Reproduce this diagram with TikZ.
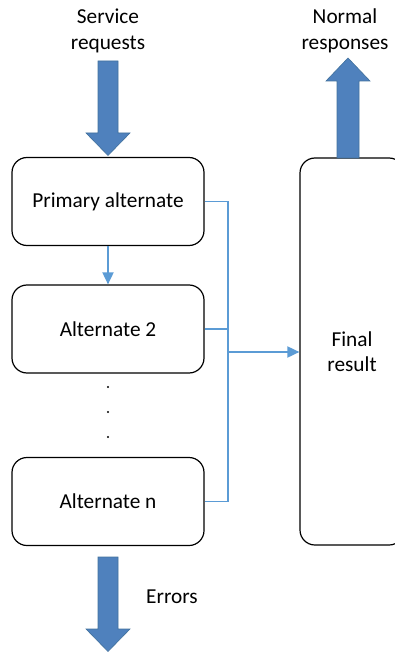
\documentclass[tikz,border=0pt]{standalone}
\usepackage{fontspec}
\setmainfont{Carlito}
\usetikzlibrary{arrows.meta}
\definecolor{bigblue}{HTML}{4F81BD}
\definecolor{bigedge}{HTML}{41719C}
\definecolor{linkblue}{HTML}{5B9BD5}
\tikzset{
  box/.style={draw=black, line width=1.2pt, rounded corners=15pt, minimum width=192pt, minimum height=88pt, inner sep=0pt, font=\fontsize{21.3}{25}\selectfont},
  lbl/.style={align=center, inner sep=0pt, font=\fontsize{21.3}{26}\selectfont},
  link/.style={draw=linkblue, line width=1.4pt},
  linkarrow/.style={link, line width=1.8pt, -{Triangle[length=12pt,width=11pt]}},
  bigarrow/.style={fill=bigblue, draw=bigedge, line width=0.6pt, line join=miter},
  dot/.style={circle, fill=black, inner sep=0pt, minimum size=2.2pt}
}
\begin{document}
\begin{tikzpicture}[x=1pt, y=-1pt]
\path[use as bounding box, clip] (0,0) rectangle (395,652);

% labels
\node[lbl] (sr) at (108,31) {Service\\requests};
\node[lbl] (nr) at (345,31) {Normal\\responses};
\node[lbl, anchor=west] (err) at (146,597) {Errors};

% alternates
\node[box] (p)  at (108,201.5) {Primary alternate};
\node[box] (a2) at (108,329) {Alternate 2};
\node[box] (an) at (108,501.5) {Alternate n};
\node[dot] (d1) at (108,387) {};
\node[dot] (d2) at (108,412) {};
\node[dot] (d3) at (108,437) {};

% final result box, running off the right edge
\node[box, minimum width=104pt, minimum height=387pt, align=center, font=\fontsize{21.3}{25}\selectfont] (f) at (352,351.5) {Final\\result};

% wide block arrows
\draw[bigarrow] (98,61) -- (118,61) -- (118,133) -- (130,133) -- (108,155.5) -- (86,133) -- (98,133) -- cycle;
\draw[bigarrow] (337,158) -- (337,81) -- (326,81) -- (348,58) -- (370,81) -- (359,81) -- (359,158) -- cycle;
\draw[bigarrow] (98,557) -- (118,557) -- (118,629) -- (130,629) -- (108,651.5) -- (86,629) -- (98,629) -- cycle;

% connectors
\coordinate (bus) at (228,0);
\coordinate (j) at (228,352);
\draw[linkarrow] (p.south) -- (a2.north);
\draw[link] (p.east) -- (p.east -| bus) -- (an.east -| bus) -- (an.east);
\draw[link] (a2.east) -- (a2.east -| bus);
\draw[linkarrow] (j) -- (j -| f.west);
\end{tikzpicture}
\end{document}
